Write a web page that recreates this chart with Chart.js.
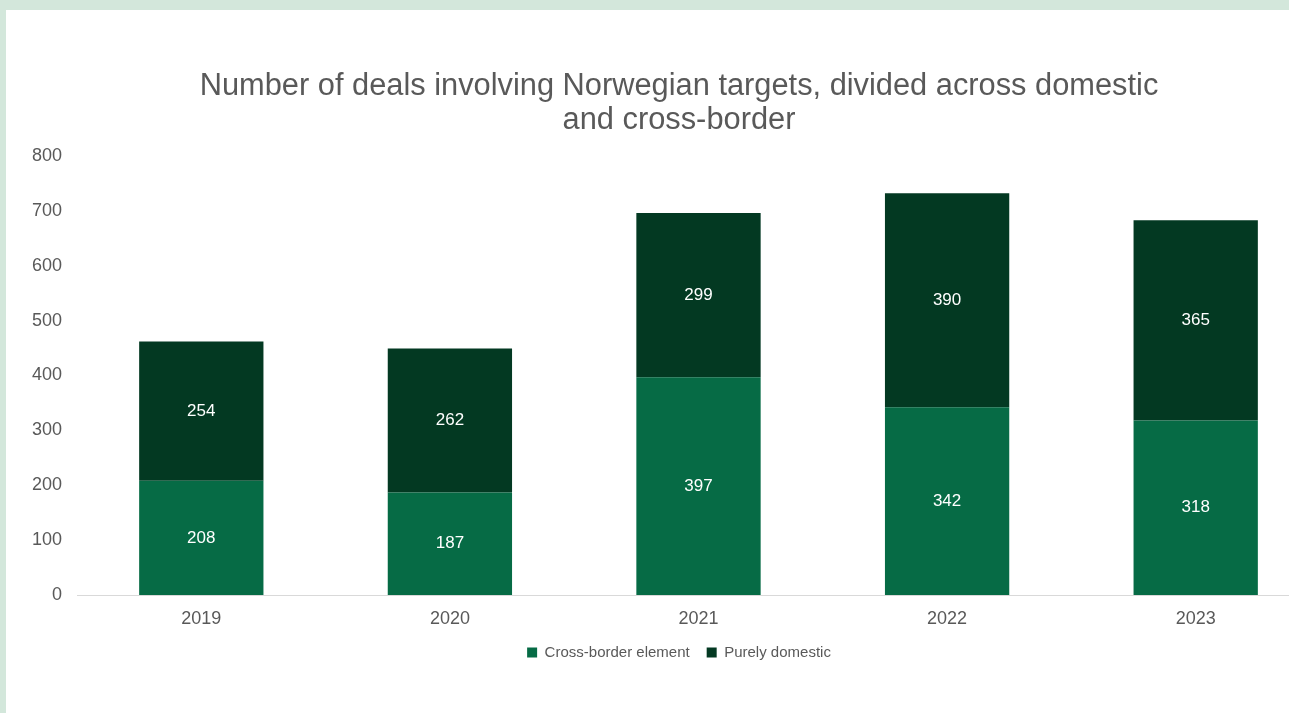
<!DOCTYPE html>
<html>
<head>
<meta charset="utf-8">
<script src="https://cdn.jsdelivr.net/npm/chart.js@4/dist/chart.umd.min.js"></script>
<style>
  html, body { margin: 0; padding: 0; background: #d3e7db; overflow: hidden; width: 1289px; height: 713px; }
  #frame { position: absolute; left: 6px; top: 10px; width: 1346px; height: 703px; background: #ffffff; }
  #chart { display: block; }
</style>
</head>
<body>
<div id="frame"><canvas id="chart" width="1346" height="703"></canvas></div>
<script>
// Deal counts per year, split by deal type
const years = ['2019', '2020', '2021', '2022', '2023'];
const crossBorder = [208, 187, 397, 342, 318];
const domestic = [254, 262, 299, 390, 365];
const yTicks = [0, 100, 200, 300, 400, 500, 600, 700, 800];

const titleLines = ['Number of deals involving Norwegian targets, divided across domestic', 'and cross-border'];
const seriesNames = ['Cross-border element', 'Purely domestic'];

const FONT = '"Liberation Sans", Arial, sans-serif';
const TEXT_GREY = '#595959';

// Writes each segment's value in the middle of its bar
const segmentLabels = {
  id: 'segmentLabels',
  afterDatasetsDraw(chart) {
    const ctx = chart.ctx;
    ctx.save();
    ctx.fillStyle = '#ffffff';
    ctx.font = '17px ' + FONT;
    ctx.textAlign = 'center';
    ctx.textBaseline = 'middle';
    chart.data.datasets.forEach((ds, i) => {
      const meta = chart.getDatasetMeta(i);
      meta.data.forEach((bar, j) => {
        const mid = (bar.y + bar.base) / 2;
        ctx.fillText(String(ds.data[j]), bar.x, mid);
      });
    });
    ctx.restore();
  }
};

new Chart(document.getElementById('chart'), {
  type: 'bar',
  data: {
    labels: years,
    datasets: [
      { label: seriesNames[0], data: crossBorder, backgroundColor: '#066b45', categoryPercentage: 0.5, barPercentage: 1 },
      { label: seriesNames[1], data: domestic, backgroundColor: '#033922', categoryPercentage: 0.5, barPercentage: 1 }
    ]
  },
  options: {
    responsive: false,
    animation: false,
    devicePixelRatio: 1,
    layout: { padding: { left: 0, right: 0, top: 59, bottom: 43 } },
    plugins: {
      title: {
        display: true,
        text: titleLines,
        color: TEXT_GREY,
        font: { family: FONT, size: 30.8, weight: 'normal', lineHeight: 1.12 },
        padding: { top: 0, bottom: 18 }
      },
      legend: {
        position: 'bottom',
        labels: {
          color: TEXT_GREY,
          font: { family: FONT, size: 15 },
          boxWidth: 10,
          boxHeight: 10,
          padding: 17
        }
      },
      tooltip: { enabled: false }
    },
    scales: {
      x: {
        stacked: true,
        grid: { display: false, drawTicks: false },
        border: { display: true, color: '#d9d9d9', width: 1 },
        ticks: { color: TEXT_GREY, font: { family: FONT, size: 18 }, padding: 13 },
        afterFit(scale) { scale.height = 33; }
      },
      y: {
        stacked: true,
        min: 0,
        max: 800,
        afterBuildTicks(scale) { scale.ticks = yTicks.map(v => ({ value: v })); },
        afterFit(scale) { scale.width = 71; },
        grid: { display: false, drawTicks: false },
        border: { display: false },
        ticks: { color: TEXT_GREY, font: { family: FONT, size: 18 }, padding: 15 }
      },
      // empty right-hand margin so the plot runs past the visible edge
      yRight: {
        position: 'right',
        grid: { display: false, drawTicks: false },
        border: { display: false },
        ticks: { display: false },
        afterFit(scale) { scale.width = 32; }
      }
    }
  },
  plugins: [segmentLabels]
});
</script>
</body>
</html>
